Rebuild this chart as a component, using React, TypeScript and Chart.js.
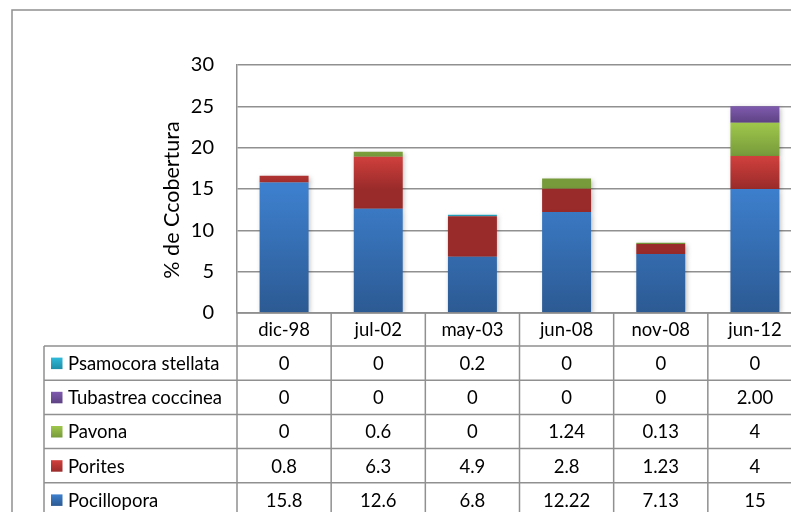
import { useEffect, useRef } from "react";
import { Chart, registerables } from "chart.js";

Chart.register(...registerables);

// Sampling dates
const periods = ["dic-98", "jul-02", "may-03", "jun-08", "nov-08", "jun-12"];

// Coral cover (%) per genus, one value per sampling date
const pocillopora = [15.8, 12.6, 6.8, 12.22, 7.13, 15];
const porites = [0.8, 6.3, 4.9, 2.8, 1.23, 4];
const pavona = [0, 0.6, 0, 1.24, 0.13, 4];
const tubastrea = [0, 0, 0, 0, 0, 2];
const psamocora = [0, 0, 0.2, 0, 0, 0];

const yTicks = [0, 5, 10, 15, 20, 25, 30];
const yTitle = "% de Ccobertura";

// Stack order, bottom first
const seriesNames = ["Pocillopora", "Porites", "Pavona", "Tubastrea coccinea", "Psamocora stellata"];
const seriesValues = [pocillopora, porites, pavona, tubastrea, psamocora];

// Fill colours: [top of segment, bottom of segment]
const seriesColors: [string, string][] = [
  ["#3d7fcd", "#2c5a93"],
  ["#d1403d", "#992b2a"],
  ["#9fc74b", "#779a3b"],
  ["#7f5bae", "#5d4283"],
  ["#2fbad9", "#1e8ea8"],
];

// Cells shown with a fixed number of decimals in the table
const fixedDecimals: Record<string, number> = { "Tubastrea coccinea": 2 };

const FONT = "Lato, 'Open Sans', sans-serif";
const LINE = "#909090";

function fmt(name: string, v: number): string {
  if (v === 0) return "0";
  const d = fixedDecimals[name];
  return d !== undefined ? v.toFixed(d) : String(v);
}

function segGradient(ctx: CanvasRenderingContext2D, top: number, bot: number, c: [string, string]) {
  const g = ctx.createLinearGradient(0, top, 0, bot);
  g.addColorStop(0, c[0]);
  g.addColorStop(1, c[1]);
  return g;
}

const gradientPlugin = {
  id: "segmentGradients",
  beforeDatasetsDraw(chart: any) {
    const ctx = chart.ctx as CanvasRenderingContext2D;
    chart.data.datasets.forEach((_ds: any, i: number) => {
      const meta = chart.getDatasetMeta(i);
      meta.data.forEach((bar: any) => {
        const top = Math.min(bar.y, bar.base);
        const bot = Math.max(bar.y, bar.base);
        if (bot - top < 0.01) return;
        bar.options.backgroundColor = segGradient(ctx, top, bot, seriesColors[i]);
      });
    });
    ctx.save();
    ctx.shadowColor = "rgba(0,0,0,0.28)";
    ctx.shadowBlur = 5;
    ctx.shadowOffsetX = 1.5;
    ctx.shadowOffsetY = 2;
  },
  afterDatasetsDraw(chart: any) {
    chart.ctx.restore();
  },
};

const frameAndTablePlugin = {
  id: "frameAndTable",
  afterDraw(chart: any) {
    const ctx = chart.ctx as CanvasRenderingContext2D;
    const area = chart.chartArea;
    const xs = chart.scales.x;
    const n = periods.length;
    const colW = (area.right - area.left) / n;
    const W = chart.width;
    const H = chart.height;

    ctx.save();
    ctx.strokeStyle = LINE;
    ctx.lineWidth = 1.5;

    // chart frame
    ctx.beginPath();
    ctx.moveTo(12, H);
    ctx.lineTo(12, 10);
    ctx.lineTo(W, 10);
    ctx.stroke();

    // y-axis title
    ctx.save();
    ctx.translate(172, 200);
    ctx.rotate(-Math.PI / 2);
    ctx.fillStyle = "#000";
    ctx.font = `21.5px ${FONT}`;
    ctx.textAlign = "center";
    ctx.textBaseline = "middle";
    ctx.fillText(yTitle, 0, 0);
    ctx.restore();

    // data table
    const headTop = area.bottom;
    const rowTop = 346;
    const rowH = 34.2;
    const legendLeft = 44;
    const rows = seriesNames.length;

    ctx.beginPath();
    ctx.moveTo(area.left, headTop);
    ctx.lineTo(W, headTop);
    for (let r = 0; r <= rows; r++) {
      const y = rowTop + r * rowH;
      ctx.moveTo(legendLeft, y);
      ctx.lineTo(W, y);
    }
    for (let k = 0; k <= n; k++) {
      const x = area.left + k * colW;
      ctx.moveTo(x, headTop);
      ctx.lineTo(x, H);
    }
    ctx.moveTo(legendLeft, rowTop);
    ctx.lineTo(legendLeft, H);
    ctx.stroke();

    ctx.fillStyle = "#000";
    ctx.font = `18.5px ${FONT}`;
    ctx.textBaseline = "middle";
    ctx.textAlign = "center";
    periods.forEach((p, i) => {
      ctx.fillText(p, xs.getPixelForValue(i), (headTop + rowTop) / 2 + 1);
    });

    for (let r = 0; r < rows; r++) {
      const si = rows - 1 - r;
      const name = seriesNames[si];
      const cy = rowTop + r * rowH + rowH / 2 + 1;
      // legend key
      ctx.fillStyle = segGradient(ctx, cy - 6.5, cy + 5, seriesColors[si]);
      ctx.fillRect(51, cy - 6.5, 11.5, 11.5);
      ctx.fillStyle = "#000";
      ctx.textAlign = "left";
      ctx.fillText(name, 68, cy);
      ctx.textAlign = "center";
      seriesValues[si].forEach((v, i) => {
        ctx.fillText(fmt(name, v), xs.getPixelForValue(i), cy);
      });
    }
    ctx.restore();
  },
};

export default function App() {
  const ref = useRef<HTMLCanvasElement | null>(null);

  useEffect(() => {
    const canvas = ref.current;
    if (!canvas) return;
    const chart = new Chart(canvas, {
      type: "bar",
      data: {
        labels: periods,
        datasets: seriesNames.map((name, i) => ({
          label: name,
          data: seriesValues[i],
          backgroundColor: seriesColors[i][0],
          borderWidth: 0,
          categoryPercentage: 1,
          barPercentage: 0.52,
        })),
      },
      options: {
        responsive: false,
        animation: false,
        devicePixelRatio: 1,
        layout: { padding: { left: 0, top: 65, right: 38, bottom: 247 } },
        plugins: {
          legend: { display: false },
          tooltip: { enabled: false },
          title: { display: false },
        },
        scales: {
          x: { stacked: true, display: false },
          y: {
            stacked: true,
            min: yTicks[0],
            max: yTicks[yTicks.length - 1],
            afterFit: (s: any) => {
              s.width = 237;
            },
            afterBuildTicks: (s: any) => {
              s.ticks = yTicks.map((v) => ({ value: v }));
            },
            ticks: {
              color: "#000",
              padding: 23,
              font: { family: FONT, size: 20 },
            },
            grid: { color: LINE, lineWidth: 1.5, drawTicks: false },
            border: { display: true, color: LINE, width: 1.5 },
          },
        },
      },
      plugins: [gradientPlugin, frameAndTablePlugin],
    });
    return () => chart.destroy();
  }, []);

  return (
    <div
      style={{
        position: "fixed",
        left: 0,
        top: 0,
        width: 791,
        height: 512,
        overflow: "hidden",
        background: "#fff",
      }}
    >
      <canvas ref={ref} width={840} height={560} style={{ display: "block" }} />
    </div>
  );
}
